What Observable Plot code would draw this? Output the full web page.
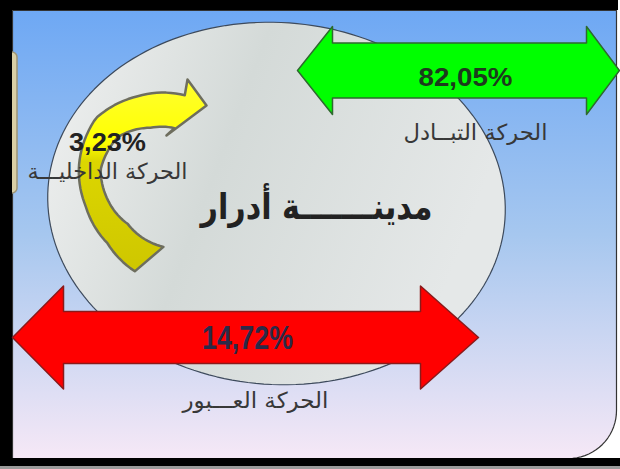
<!DOCTYPE html>
<html><head><meta charset="utf-8">
<script src="https://cdn.jsdelivr.net/npm/d3@7"></script>
<script src="https://cdn.jsdelivr.net/npm/@observablehq/plot@0.6"></script>
<style>html,body{margin:0;padding:0;background:#fff;overflow:hidden}</style>
</head><body><div id="chart"></div>
<script>
// ---- data ----
const flows = ["الحركة التبــادل", "الحركة العـــبور", "الحركة الداخليـــة"];
const shares = [82.05, 14.72, 3.23];
const shareLabels = ["82,05%", "14,72%", "3,23%"];
const cityName = "مدينـــــــة أدرار";
const flowColors = ["#00ff00", "#ff0000", "yellow"];

// ---- layout (diagram geometry, pixel space) ----
const W = 620, H = 469;
const arrowLayout = [
  {x1: 297, x2: 619, cy: 70, shaft: 55, head: 88, hl1: 35, hl2: 33, stroke: "#2e6a2e"},
  {x1: 12, x2: 478, cy: 337, shaft: 52, head: 103, hl1: 51, hl2: 58, stroke: "#8a1a1a"}
];
const valueLayout = [
  {x: 465, y: 77.5, size: 26, len: 94, color: "#1d3a1d"},
  {x: 247, y: 337.5, size: 34, len: 91, color: "#2b2a48"},
  {x: 107, y: 142.5, size: 26, len: 77, color: "#222"}
];
const nameLayout = [
  {x: 475, base: 139, size: 22, len: 144},
  {x: 255, base: 407, size: 22, len: 146},
  {x: 107, base: 178, size: 22, len: 160}
];
const cityLayout = {x: 316, base: 218, size: 36, len: 232};

function doubleArrow(a) {
  const {x1, x2, cy, shaft, head, hl1, hl2} = a;
  const s = shaft / 2, h = head / 2;
  return [[x1, cy], [x1 + hl1, cy - h], [x1 + hl1, cy - s], [x2 - hl2, cy - s], [x2 - hl2, cy - h],
          [x2, cy], [x2 - hl2, cy + h], [x2 - hl2, cy + s], [x1 + hl1, cy + s], [x1 + hl1, cy + h]];
}

// ellipse (city)
const ell = {cx: 276, cy: 203, rx: 229, ry: 181, rot: 4 * Math.PI / 180};
const ellipsePts = d3.range(0, 360, 2).map(deg => {
  const t = deg * Math.PI / 180;
  const ex = ell.rx * Math.cos(t), ey = ell.ry * Math.sin(t);
  return [ell.cx + ex * Math.cos(ell.rot) - ey * Math.sin(ell.rot),
          ell.cy + ex * Math.sin(ell.rot) + ey * Math.cos(ell.rot)];
});

// panel with rounded bottom-right corner
const pr = 48;
const panelPts = [[12, 10], [616, 10], [616, 458 - pr]]
  .concat(d3.range(0, 91, 5).map(d => [616 - pr + pr * Math.cos(d * Math.PI / 180), 458 - pr + pr * Math.sin(d * Math.PI / 180)]))
  .concat([[12, 458]]);

// curved internal-movement arrow
const yc = {cx: 172, cy: 182};
const outerR = d3.scaleLinear().domain([105, 137, 165, 190, 220, 248, 279]).range([99, 89, 90, 95, 100, 93, 88]);
const innerR = d3.scaleLinear().domain([98, 137, 165, 190, 220, 248, 279]).range([65, 61, 67, 73, 71, 59, 53]);
const polar = (r, deg) => [yc.cx + r * Math.cos(deg * Math.PI / 180), yc.cy + r * Math.sin(deg * Math.PI / 180)];
const curvedPts = d3.range(113, 280, 3).map(a => polar(outerR(a), a))
  .concat([[187, 79], [206, 105], [166, 135]])
  .concat(d3.range(272, 97, -3).map(a => polar(innerR(a), a)));

const frameBands = [
  {x1: 0, x2: 12, y1: 0, y2: 466},
  {x1: 0, x2: 618, y1: 0, y2: 10},
  {x1: 0, x2: 620, y1: 458, y2: 466}
];

const defs = () => {
  const g = d3.create("svg:defs");
  g.html(`
    <linearGradient id="panelG" x1="0" y1="0" x2="0" y2="1">
      <stop offset="0" stop-color="#6ea8f4"/>
      <stop offset="0.5" stop-color="#a6c7ef"/>
      <stop offset="1" stop-color="#f6e8f6"/>
    </linearGradient>
    <linearGradient id="ellG" x1="0" y1="0" x2="1" y2="0.3">
      <stop offset="0" stop-color="#f1f2f2"/>
      <stop offset="0.45" stop-color="#d4dad8"/>
      <stop offset="1" stop-color="#e5e8e8"/>
    </linearGradient>
    <linearGradient id="yelG" gradientUnits="userSpaceOnUse" x1="0" y1="78" x2="0" y2="275">
      <stop offset="0" stop-color="#ffff30"/>
      <stop offset="0.33" stop-color="#ffff00"/>
      <stop offset="0.42" stop-color="#dcd600"/>
      <stop offset="1" stop-color="#cec600"/>
    </linearGradient>`);
  return g.node();
};

const arabicFont = "DejaVu Sans, Noto Sans, sans-serif";
const fitLengths = new Map();
valueLayout.forEach((v, i) => fitLengths.set(shareLabels[i], v.len));
nameLayout.forEach((n, i) => fitLengths.set(flows[i], n.len));
fitLengths.set(cityName, cityLayout.len);

const chart = Plot.plot({
  width: W, height: H, margin: 0,
  x: {domain: [0, W], range: [0, W], axis: null},
  y: {domain: [0, H], range: [0, H], axis: null},
  style: {background: "#fff"},
  marks: [
    defs,
    Plot.rect([{x1: 0, x2: W, y1: 466, y2: H}], {x1: "x1", x2: "x2", y1: "y1", y2: "y2", fill: "#9a9a9a"}),
    Plot.line(panelPts, {x: d => d[0], y: d => d[1], curve: "linear-closed", fill: "url(#panelG)", stroke: "#333", strokeWidth: 1.2}),
    Plot.rect([{x1: 2, x2: 17, y1: 52, y2: 193}], {x1: "x1", x2: "x2", y1: "y1", y2: "y2", rx: 5, fill: "#d9cfa6", stroke: "#9c9476", strokeWidth: 1.5}),
    Plot.rect(frameBands, {x1: "x1", x2: "x2", y1: "y1", y2: "y2", fill: "#000"}),
    Plot.line(ellipsePts, {x: d => d[0], y: d => d[1], curve: "linear-closed", fill: "url(#ellG)", stroke: "#3d4a5c", strokeWidth: 1.2}),
    Plot.line(curvedPts, {x: d => d[0], y: d => d[1], curve: "linear-closed", fill: "url(#yelG)", stroke: "#6e6e5e", strokeWidth: 2.5, strokeLinejoin: "round"}),
    ...arrowLayout.map((a, i) => Plot.line(doubleArrow(a), {x: d => d[0], y: d => d[1], curve: "linear-closed", fill: flowColors[i], stroke: a.stroke, strokeWidth: 1.5})),
    ...valueLayout.map((v, i) => Plot.text([shareLabels[i]], {x: () => v.x, y: () => v.y, text: d => d, fontSize: v.size, fontWeight: "bold", fontFamily: "Liberation Sans, Arial, sans-serif", fill: v.color, textAnchor: "middle", lineAnchor: "middle"})),
    ...nameLayout.map((n, i) => Plot.text([flows[i]], {x: () => n.x, y: () => n.base - 0.32 * n.size, text: d => d, fontSize: n.size, fontFamily: arabicFont, fill: "#383838", textAnchor: "middle", lineAnchor: "middle"})),
    Plot.text([cityName], {x: () => cityLayout.x, y: () => cityLayout.base - 0.32 * cityLayout.size, text: d => d, fontSize: cityLayout.size, fontWeight: "bold", fontFamily: arabicFont, fill: "#222", textAnchor: "middle", lineAnchor: "middle"})
  ]
});
d3.select(chart).selectAll("text").each(function () {
  const len = fitLengths.get(this.textContent);
  if (len) { this.setAttribute("textLength", len); this.setAttribute("lengthAdjust", "spacingAndGlyphs"); }
});
document.getElementById("chart").appendChild(chart);
</script>
</body></html>
